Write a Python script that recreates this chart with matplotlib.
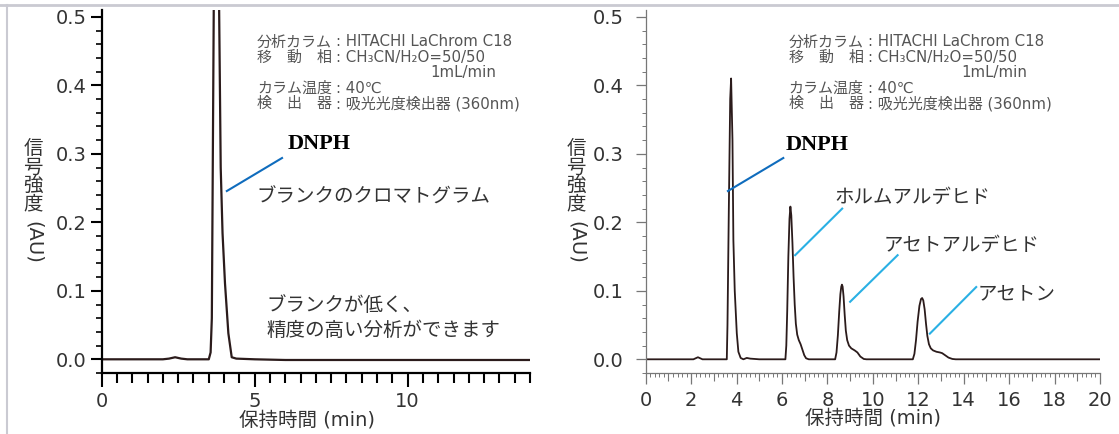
import matplotlib.pyplot as plt
from matplotlib.lines import Line2D
from matplotlib.ticker import MultipleLocator

plt.rcParams['font.family'] = ['DejaVu Sans', 'Noto Sans CJK JP']

# left: blank chromatogram (time in min, signal in AU); DNPH peak runs off scale
blank_time = [0.0, 1.0, 2.0, 2.2, 2.4, 2.6, 2.8, 3.0, 3.50, 3.56, 3.60, 3.73, 3.89, 3.95,
              4.03, 4.14, 4.25, 4.4, 5.0, 6.0, 7.0, 8.0, 9.0, 10.0, 11.0, 12.0, 13.0, 14.0]
blank_signal = [0.0, 0.0, 0.0, 0.001, 0.003, 0.001, 0.0, 0.0, 0.0, 0.01, 0.06, 1.0, 0.28,
                0.184, 0.111, 0.038, 0.003, 0.001, 0.0, -0.001, -0.001, -0.001, -0.001,
                -0.001, -0.001, -0.001, -0.001, -0.001]

# right: standard sample chromatogram
std_time = [0.0, 1.5, 2.1, 2.3, 2.5, 3.0, 3.5, 3.57, 3.60, 3.66, 3.72, 3.76, 3.82, 3.86,
            3.92, 4.01, 4.08, 4.18, 4.3, 4.45, 4.6, 5.0, 6.0,
            6.15, 6.19, 6.23, 6.28, 6.33, 6.37, 6.41, 6.46, 6.51, 6.56, 6.61, 6.67, 6.74,
            6.82, 6.90, 6.98, 7.06, 7.18, 8.0,
            8.34, 8.40, 8.46, 8.52, 8.57, 8.61, 8.64, 8.67, 8.71, 8.76, 8.81, 8.87, 8.95,
            9.05, 9.20, 9.32, 9.45, 9.60, 9.72, 11.0,
            11.76, 11.83, 11.90, 11.97, 12.05, 12.12, 12.17, 12.22, 12.28, 12.34, 12.40,
            12.47, 12.55, 12.65, 12.80, 12.95, 13.05, 13.18, 13.33, 13.5, 13.65, 16.0, 20.0]
std_signal = [0.0, 0.0, 0.0, 0.003, 0.0, 0.0, 0.0, 0.0, 0.05, 0.22, 0.38, 0.41, 0.32, 0.174,
              0.10, 0.038, 0.011, 0.002, 0.0, 0.002, 0.001, 0.0, 0.0,
              0.0, 0.02, 0.07, 0.15, 0.205, 0.223, 0.21, 0.17, 0.12, 0.08, 0.052, 0.036,
              0.028, 0.022, 0.014, 0.006, 0.0015, 0.0, 0.0,
              0.0, 0.01, 0.035, 0.07, 0.095, 0.106, 0.109, 0.106, 0.092, 0.065, 0.042,
              0.028, 0.020, 0.016, 0.013, 0.010, 0.004, 0.0005, 0.0, 0.0,
              0.0, 0.008, 0.028, 0.055, 0.078, 0.088, 0.0895, 0.086, 0.073, 0.052, 0.034,
              0.022, 0.016, 0.013, 0.011, 0.010, 0.009, 0.006, 0.0025, 0.0005, 0.0, 0.0, 0.0]

info_labels = ['分析カラム', '移\u3000動\u3000相', '', 'カラム温度', '検\u3000出\u3000器']
info_values = [': HITACHI LaChrom C18', ': CH\u2083CN/H\u2082O=50/50', '', ': 40\u2103',
               ': 吸光光度検出器 (360nm)']
flow_text = '1mL/min'

# peak labels on the right panel: (text, line start, line end, text anchor)
peak_labels = [
    ('ホルムアルデヒド', (6.58, 0.152), (8.65, 0.220), (8.31, 0.237)),
    ('アセトアルデヒド', (9.00, 0.084), (11.09, 0.152), (10.46, 0.166)),
    ('アセトン', (12.51, 0.0375), (14.55, 0.1055), (14.60, 0.096)),
]

W, H = 1119, 434
fig = plt.figure(figsize=(W / 100, H / 100), dpi=100)

def fx(x):
    return x / W

def fy(y):
    return 1 - y / H

line_col = '#2b1b1b'
dark_blue = '#0f6cbd'
light_blue = '#2ab0e4'
txt_col = '#333333'
info_col = '#555555'

axL = fig.add_axes([fx(101.7), fy(373), fx(530) - fx(101.7), fy(10) - fy(373)])
axR = fig.add_axes([fx(645.7), fy(373), fx(1100) - fx(645.7), fy(10) - fy(373)])

for ax in (axL, axR):
    ax.set_ylim(-0.02, 0.51)
    ax.spines['top'].set_visible(False)
    ax.spines['right'].set_visible(False)
    ax.patch.set_alpha(0)
    ax.yaxis.set_major_locator(MultipleLocator(0.1))
    ax.yaxis.set_minor_locator(MultipleLocator(0.02))
    ax.yaxis.set_major_formatter(plt.FormatStrFormatter('%.1f'))
    ax.set_xlabel('保持時間 (min)', fontsize=14, color=txt_col, labelpad=-1)

# left panel: heavy black axes
axL.plot(blank_time, blank_signal, color=line_col, lw=1.6)
axL.set_xlim(0, 14)
axL.xaxis.set_major_locator(MultipleLocator(5))
axL.xaxis.set_minor_locator(MultipleLocator(0.5))
for s in ('left', 'bottom'):
    axL.spines[s].set_linewidth(1.6)
    axL.spines[s].set_color('black')
axL.tick_params(axis='x', which='major', length=10, width=1.5, pad=4,
                labelsize=14, labelcolor=txt_col)
axL.tick_params(axis='x', which='minor', length=7, width=1.5)
axL.tick_params(axis='y', which='major', length=8, width=1.5, pad=3,
                labelsize=14, labelcolor=txt_col)
axL.tick_params(axis='y', which='minor', length=4, width=1.2)
axL.xaxis.get_label().set_x(0.48)

# right panel: thin grey axes
axR.plot(std_time, std_signal, color=line_col, lw=1.3)
axR.set_xlim(0, 20)
axR.xaxis.set_major_locator(MultipleLocator(2))
axR.xaxis.set_minor_locator(MultipleLocator(0.2))
for s in ('left', 'bottom'):
    axR.spines[s].set_linewidth(0.9)
    axR.spines[s].set_color('#777777')
axR.tick_params(axis='both', which='both', color='#777777')
axR.tick_params(axis='x', which='major', length=8, width=0.9, pad=5,
                labelsize=14, labelcolor=txt_col)
axR.tick_params(axis='x', which='minor', length=3, width=0.7)
axR.tick_params(axis='y', which='major', length=7, width=0.9, pad=9,
                labelsize=14, labelcolor=txt_col)
axR.tick_params(axis='y', which='minor', length=3, width=0.7)
sec = axR.secondary_xaxis('bottom')
sec.set_xticks(range(1, 20, 2))
sec.tick_params(length=5.5, width=0.8, color='#777777', labelbottom=False)
sec.spines['bottom'].set_visible(False)

# vertical y labels
for xc in (33, 576):
    for i, ch in enumerate('信号強度'):
        fig.text(fx(xc), fy(149 + i * 18.3), ch, fontsize=14, color=txt_col,
                 ha='center', va='center')
    fig.text(fx(xc), fy(242), '(AU)', fontsize=14, color=txt_col,
             ha='center', va='center', rotation=-90)

# condition block
for x0, shift in ((257, 0), (788.6, 531.6)):
    for i, (lab, val) in enumerate(zip(info_labels, info_values)):
        yy = fy(42 + i * 15.4)
        fig.text(fx(x0), yy, lab, fontsize=10.8, color=info_col, va='center')
        fig.text(fx(x0 + 79), yy, val, fontsize=10.8, color=info_col, va='center')
    fig.text(fx(430 + shift), fy(42 + 2 * 15.4), flow_text, fontsize=10.8,
             color=info_col, va='center')

# left annotations
axL.plot([4.09, 5.895], [0.2457, 0.2939], color=dark_blue, lw=1.5)
axL.text(6.07, 0.315, 'DNPH', family='Liberation Serif', fontweight='bold',
         fontsize=16, va='center')
axL.text(5.075, 0.237, 'ブランクのクロマトグラム', fontsize=14, color=txt_col, va='center')
axL.text(5.37, 0.0788, 'ブランクが低く、', fontsize=14, color=txt_col, va='center')
axL.text(5.37, 0.0423, '精度の高い分析ができます', fontsize=14, color=txt_col, va='center')

# right annotations
axR.plot([3.62, 6.057], [0.2457, 0.2939], color=dark_blue, lw=1.5)
axR.text(6.14, 0.3124, 'DNPH', family='Liberation Serif', fontweight='bold',
         fontsize=16, va='center')
for name, p0, p1, pt in peak_labels:
    axR.plot([p0[0], p1[0]], [p0[1], p1[1]], color=light_blue, lw=1.5)
    axR.text(pt[0], pt[1], name, fontsize=14, color=txt_col, va='center')

# light frame around the figure (top and left edges)
fig.add_artist(Line2D([0, 1], [fy(5), fy(5)], transform=fig.transFigure,
                      color='#cacad2', lw=2))
fig.add_artist(Line2D([fx(6.5), fx(6.5)], [fy(5), 0], transform=fig.transFigure,
                      color='#cacad2', lw=1.5))

fig.savefig('out.png', dpi=100)
